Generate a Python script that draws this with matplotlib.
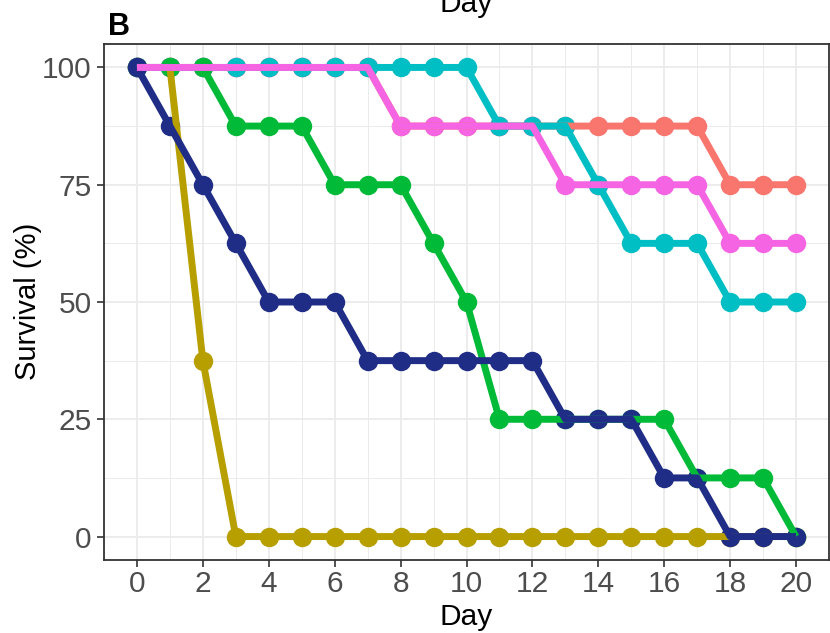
import matplotlib
matplotlib.use('Agg')
import matplotlib.pyplot as plt
import numpy as np

plt.rcParams['font.family'] = ['Liberation Sans', 'DejaVu Sans']

days = list(range(21))
salmon = [100, 100, 100, 100, 100, 100, 100, 100, 87.5, 87.5, 87.5, 87.5, 87.5, 87.5, 87.5, 87.5, 87.5, 87.5, 75, 75, 75]
gold = [100, 100, 37.5, 0, 0, 0, 0, 0, 0, 0, 0, 0, 0, 0, 0, 0, 0, 0, 0, 0, 0]
green = [100, 100, 100, 87.5, 87.5, 87.5, 75, 75, 75, 62.5, 50, 25, 25, 25, 25, 25, 25, 12.5, 12.5, 12.5, 0]
cyan = [100, 100, 100, 100, 100, 100, 100, 100, 100, 100, 100, 87.5, 87.5, 87.5, 75, 62.5, 62.5, 62.5, 50, 50, 50]
pink = [100, 100, 100, 100, 100, 100, 100, 100, 87.5, 87.5, 87.5, 87.5, 87.5, 75, 75, 75, 75, 75, 62.5, 62.5, 62.5]
navy = [100, 87.5, 75, 62.5, 50, 50, 50, 37.5, 37.5, 37.5, 37.5, 37.5, 37.5, 25, 25, 25, 12.5, 12.5, 0, 0, 0]

series = {
    'salmon': (salmon, '#F8766D'),
    'gold': (gold, '#B79F00'),
    'green': (green, '#00BA38'),
    'cyan': (cyan, '#00BFC4'),
    'pink': (pink, '#F564E3'),
    'navy': (navy, '#1F2D86'),
}
point_order = ['salmon', 'gold', 'pink', 'cyan', 'green', 'navy']
line_order = ['salmon', 'gold', 'green', 'cyan', 'navy', 'pink']

fig = plt.figure(figsize=(8.3, 6.33), dpi=100)
W, H = 830, 633
left, right, top, bottom = 104, 829, 44, 560
ax = fig.add_axes([left / W, 1 - bottom / H, (right - left) / W, (bottom - top) / H])

# points first, lines on top (as in the original)
for k in point_order:
    vals, col = series[k]
    ax.plot(days, vals, 'o', color=col, ms=14, mew=0, zorder=3)
for k in line_order:
    vals, col = series[k]
    ax.plot(days, vals, '-', color=col, lw=5, zorder=4, solid_capstyle='butt')

ax.set_xlim(-1, 21)
ax.set_ylim(-5, 105)
ax.set_xticks(range(0, 21, 2))
ax.set_xticks(range(1, 21, 2), minor=True)
ax.set_yticks([0, 25, 50, 75, 100])
ax.set_yticks([12.5, 37.5, 62.5, 87.5], minor=True)
ax.grid(True, which='major', color='#EBEBEB', lw=1.3, zorder=0)
ax.grid(True, which='minor', color='#EBEBEB', lw=0.7, zorder=0)
ax.tick_params(which='major', length=5, width=1.2, color='#333333',
               labelsize=21.5, labelcolor='#4D4D4D')
ax.tick_params(axis='x', pad=2)
ax.tick_params(axis='y', pad=4)
ax.tick_params(which='minor', length=0)
for s in ax.spines.values():
    s.set_color('#333333')
    s.set_linewidth(1.3)

fig.text((left + right) / 2 / W, 1 - 625 / H, 'Day', fontsize=21.5, va='baseline', ha='center')
fig.text(28 / W, 1 - 301 / H, 'Survival (%)', fontsize=21, rotation=90, va='center', ha='center')

fig.text(108 / W, 1 - 35 / H, 'B', fontsize=22, fontweight='bold', va='baseline', ha='left')
fig.text((left + right) / 2 / W, 1 - 12 / H, 'Day', fontsize=21.5, va='baseline', ha='center')

fig.savefig('out.png', dpi=100)
